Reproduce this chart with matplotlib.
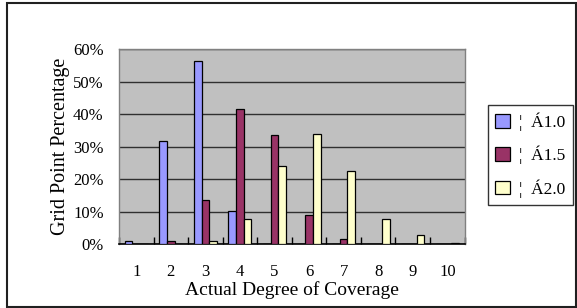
import numpy as np
import matplotlib
matplotlib.use("Agg")
import matplotlib.pyplot as plt
from matplotlib.patches import Rectangle

# Data (percent)
degrees = [1, 2, 3, 4, 5, 6, 7, 8, 9, 10]
r10 = [1.0, 31.8, 56.3, 10.3, 0.2, 0, 0, 0, 0, 0]
r15 = [0, 1.0, 13.5, 41.5, 33.5, 8.9, 1.6, 0, 0, 0]
r20 = [0, 0, 1.0, 7.8, 24.2, 33.8, 22.6, 7.8, 2.8, 0.3]
labels = ["¦  Á1.0", "¦  Á1.5", "¦  Á2.0"]
colors = ["#9999FF", "#993366", "#FFFFCC"]

plt.rcParams["font.family"] = ["Liberation Serif", "DejaVu Serif"]

fig = plt.figure(figsize=(5.77, 3.08), dpi=100)
ax = fig.add_axes([0.2062, 0.2068, 0.599, 0.634])
ax.set_facecolor("#C0C0C0")

x = np.arange(len(degrees))
w = 1 / 4.5
for i, (vals, lab, c) in enumerate(zip([r10, r15, r20], labels, colors)):
    ax.bar(x + (i - 1) * w, vals, width=w, color=c, edgecolor="black",
           linewidth=0.9, label=lab, zorder=3)

ax.set_xlim(-0.5, len(degrees) - 0.5)
ax.set_ylim(0, 60)
ax.set_yticks(range(0, 61, 10))
ax.set_yticklabels([f"{v}%" for v in range(0, 61, 10)])
ax.yaxis.grid(True, color="#303030", linewidth=1.0, zorder=1)
ax.set_axisbelow(True)

ax.set_xticks(x)
ax.set_xticklabels([str(d) for d in degrees])
ax.set_xticks(np.arange(-0.5, len(degrees)), minor=True)
ax.tick_params(axis="x", which="major", length=0, pad=14, labelsize=12)
ax.tick_params(axis="x", which="minor", direction="in", length=5, width=1, color="black")
ax.tick_params(axis="y", length=0, pad=11, labelsize=12)

for s in ["top", "right", "left"]:
    ax.spines[s].set_color("#808080")
    ax.spines[s].set_linewidth(1.0)
ax.spines["bottom"].set_color("black")
ax.spines["bottom"].set_linewidth(1.2)

ax.set_xlabel("Actual Degree of Coverage", fontsize=14, labelpad=1)
ax.set_ylabel("Grid Point Percentage", fontsize=14.5, labelpad=2)

leg = fig.legend(loc="upper left", bbox_to_anchor=(0.845, 0.660),
                 frameon=True, fancybox=False, fontsize=12.5,
                 handlelength=0.85, handleheight=0.85, handletextpad=0.5,
                 labelspacing=0.85, borderpad=0.45, borderaxespad=0)
leg.get_frame().set_edgecolor("black")
leg.get_frame().set_linewidth(1.0)

# outer chart border
fig.patches.append(Rectangle((7 / 577, 0.004), 1 - 8 / 577, 0.987,
                             transform=fig.transFigure, fill=False,
                             edgecolor="#202020", linewidth=1.5))

fig.savefig("out.png", dpi=100)
